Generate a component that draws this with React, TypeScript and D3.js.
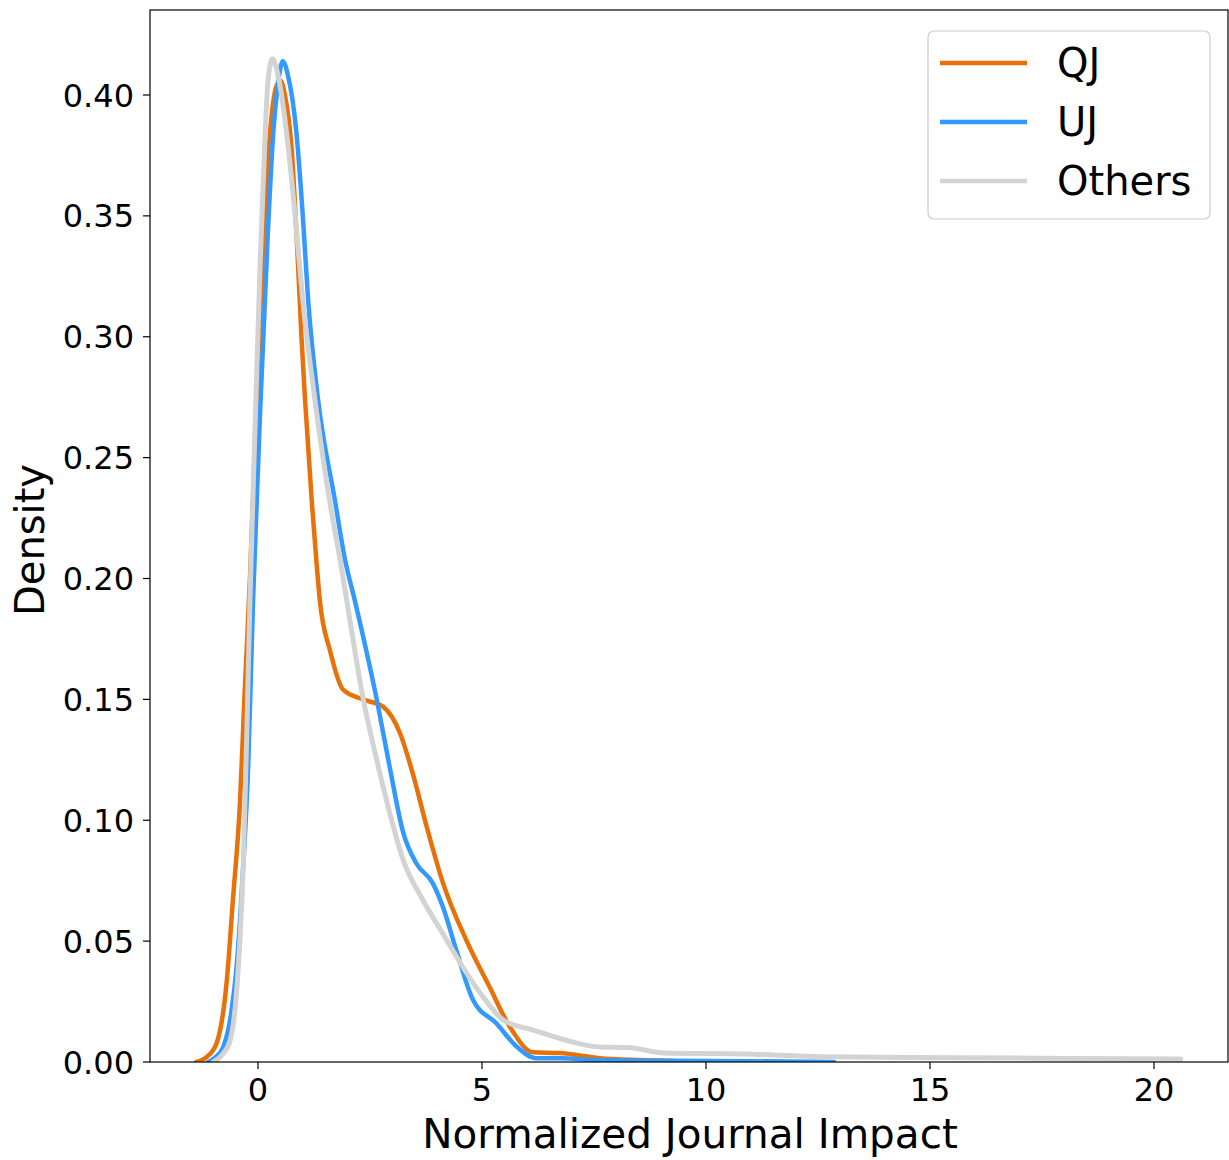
import React from "react";
import * as d3 from "d3";

const seriesNames = ["QJ", "UJ", "Others"];
const seriesColors = ["#e8710a", "#3399ff", "#d3d3d3"];

const qjX = [-1.38, -1.15, -0.92, -0.7, -0.56, -0.4, -0.3, -0.18, -0.06, 0.1, 0.25, 0.4, 0.5, 0.6, 0.75, 0.88, 0.97, 1.05, 1.2, 1.3, 1.38, 1.61, 1.9, 2.34, 2.79, 3.17, 3.46, 3.77, 4.13, 4.66, 5.17, 5.62, 6.14, 6.73, 7.63, 8.5, 9.5, 10.5];
const qjY = [0.0, 0.002, 0.008, 0.033, 0.067, 0.108, 0.152, 0.2, 0.26, 0.33, 0.38, 0.403, 0.406, 0.4, 0.378, 0.335, 0.3, 0.274, 0.232, 0.208, 0.191, 0.17, 0.154, 0.15, 0.147, 0.136, 0.119, 0.097, 0.074, 0.05, 0.031, 0.0146, 0.004, 0.0037, 0.0016, 0.0008, 0.0003, 0.0];

const ujX = [-1.11, -0.95, -0.78, -0.6, -0.48, -0.33, -0.22, -0.11, 0.05, 0.22, 0.34, 0.45, 0.55, 0.67, 0.86, 1.0, 1.12, 1.34, 1.72, 1.94, 2.16, 2.65, 2.94, 3.24, 3.54, 3.9, 4.13, 4.43, 4.8, 5.32, 5.77, 6.2, 6.8, 7.5, 9.0, 11.0, 12.86];
const ujY = [0.0, 0.002, 0.006, 0.02, 0.039, 0.081, 0.122, 0.191, 0.27, 0.343, 0.384, 0.405, 0.414, 0.408, 0.384, 0.35, 0.315, 0.274, 0.232, 0.208, 0.191, 0.15, 0.122, 0.095, 0.082, 0.074, 0.064, 0.046, 0.0256, 0.016, 0.0064, 0.0016, 0.0015, 0.0008, 0.0005, 0.0003, 0.0];

const otX = [-1.0, -0.8, -0.62, -0.44, -0.33, -0.25, -0.18, -0.07, 0.045, 0.16, 0.22, 0.32, 0.45, 0.64, 0.83, 1.0, 1.27, 1.6, 1.83, 1.98, 2.35, 2.65, 2.94, 3.24, 3.68, 4.13, 4.58, 5.02, 5.47, 6.14, 6.88, 7.63, 8.25, 9.08, 10.84, 12.6, 14.4, 17.35, 20.6];
const otY = [0.0, 0.003, 0.009, 0.039, 0.081, 0.136, 0.191, 0.26, 0.329, 0.384, 0.405, 0.415, 0.408, 0.384, 0.35, 0.315, 0.274, 0.232, 0.208, 0.191, 0.15, 0.125, 0.103, 0.0836, 0.067, 0.053, 0.039, 0.027, 0.0174, 0.0132, 0.009, 0.0062, 0.006, 0.0037, 0.0033, 0.0022, 0.0019, 0.0016, 0.0012];

const xTicks = [0, 5, 10, 15, 20];
const yTicks = [0, 0.05, 0.1, 0.15, 0.2, 0.25, 0.3, 0.35, 0.4];
const xLabel = "Normalized Journal Impact";
const yLabel = "Density";

const W = 1229;
const H = 1160;
const L = 150, R = 1228, T = 10, B = 1062;
const FONT = "DejaVu Sans, sans-serif";

export default function App() {
  const x = d3.scaleLinear().domain([0, 20]).range([258, 1154]);
  const y = d3.scaleLinear().domain([0, 0.4]).range([B, 95]);
  const line = d3
    .line<[number, number]>()
    .x((d) => x(d[0]))
    .y((d) => y(d[1]))
    .curve(d3.curveMonotoneX);

  const series = [
    { xs: qjX, ys: qjY },
    { xs: ujX, ys: ujY },
    { xs: otX, ys: otY },
  ];

  return (
    <svg width={W} height={H} style={{ position: "absolute", left: 0, top: 0, background: "#fff" }} fontFamily={FONT}>
      <defs>
        <clipPath id="plotclip">
          <rect x={L} y={T} width={R - L} height={B - T} />
        </clipPath>
      </defs>
      <rect x={0} y={0} width={W} height={H} fill="#fff" />
      <g clipPath="url(#plotclip)">
        {series.map((s, i) => (
          <path
            key={i}
            d={line(s.xs.map((v, j) => [v, s.ys[j]] as [number, number])) || ""}
            fill="none"
            stroke={seriesColors[i]}
            strokeWidth={i === 2 ? 5 : 4.5}
            strokeLinejoin="round"
            strokeLinecap="round"
          />
        ))}
      </g>
      <rect x={L} y={T} width={R - L} height={B - T} fill="none" stroke="#000" strokeWidth={1.2} />
      {xTicks.map((t) => (
        <g key={"x" + t}>
          <line x1={x(t)} x2={x(t)} y1={B} y2={B + 7} stroke="#000" strokeWidth={1.2} />
          <text x={x(t)} y={B + 39} textAnchor="middle" fontSize={32} fill="#000">
            {t}
          </text>
        </g>
      ))}
      {yTicks.map((t) => (
        <g key={"y" + t}>
          <line x1={L - 7} x2={L} y1={y(t)} y2={y(t)} stroke="#000" strokeWidth={1.2} />
          <text x={L - 16} y={y(t)} dy="0.36em" textAnchor="end" fontSize={32} fill="#000">
            {t.toFixed(2)}
          </text>
        </g>
      ))}
      <text x={690} y={1148} textAnchor="middle" fontSize={40.5} fill="#000">
        {xLabel}
      </text>
      <text transform={`translate(44,540) rotate(-90)`} textAnchor="middle" fontSize={40} fill="#000">
        {yLabel}
      </text>
      <g>
        <rect x={928} y={31} width={282} height={188} rx={6} fill="#fff" fillOpacity={0.8} stroke="#cccccc" strokeWidth={1.2} />
        {seriesNames.map((n, i) => (
          <g key={n}>
            <line x1={940} x2={1027} y1={63 + i * 59} y2={63 + i * 59} stroke={seriesColors[i]} strokeWidth={4.5} />
            <text x={1057} y={63 + i * 59} dy="0.36em" fontSize={40} fill="#000">
              {n}
            </text>
          </g>
        ))}
      </g>
    </svg>
  );
}
